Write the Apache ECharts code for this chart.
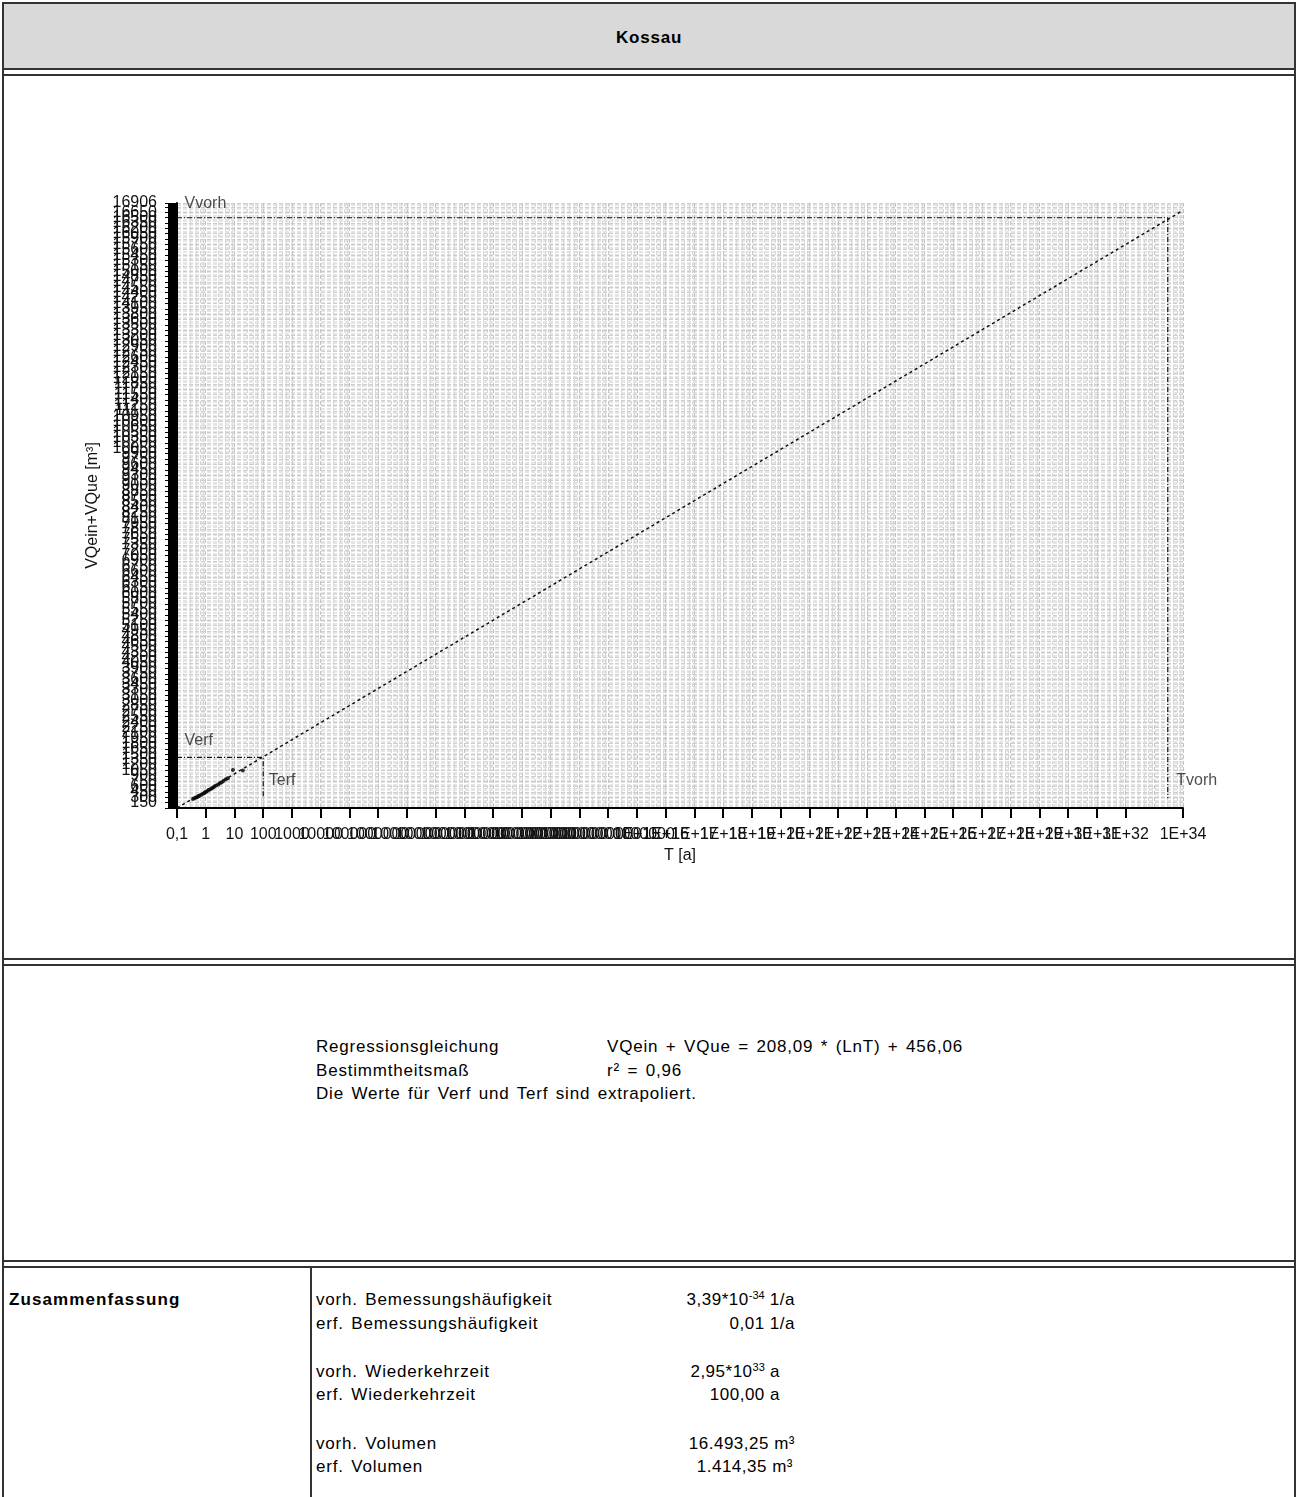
<!DOCTYPE html>
<html>
<head>
<meta charset="utf-8">
<script src="https://cdn.jsdelivr.net/npm/echarts@6/dist/echarts.min.js"></script>
<style>
html,body{margin:0;padding:0;background:#fff;}
body{width:1298px;height:1497px;position:relative;overflow:hidden;font-family:"Liberation Sans",Arial,sans-serif;color:#000;}
.b{position:absolute;background:#333;}
.t{position:absolute;font-size:17px;line-height:20px;white-space:nowrap;letter-spacing:0.8px;word-spacing:2px;}
.r{position:absolute;font-size:17px;line-height:20px;white-space:nowrap;text-align:right;letter-spacing:0.5px;}
sup{font-size:11px;line-height:0;vertical-align:6px;letter-spacing:0;}
#chart{position:absolute;left:0;top:0;width:1298px;height:1497px;}
</style>
</head>
<body>
<!-- frame -->
<div style="position:absolute;left:4px;top:4px;width:1290px;height:64px;background:#d9d9d9;"></div>
<div class="b" style="left:2px;top:2px;width:1294px;height:2px;"></div>
<div class="b" style="left:2px;top:2px;width:2px;height:1495px;"></div>
<div class="b" style="left:1294px;top:2px;width:2px;height:1495px;"></div>
<div class="b" style="left:2px;top:68px;width:1294px;height:2px;"></div>
<div class="b" style="left:2px;top:74px;width:1294px;height:2px;"></div>
<div class="b" style="left:2px;top:958px;width:1294px;height:2px;"></div>
<div class="b" style="left:2px;top:964px;width:1294px;height:2px;"></div>
<div class="b" style="left:2px;top:1260px;width:1294px;height:2px;"></div>
<div class="b" style="left:2px;top:1266px;width:1294px;height:2px;"></div>
<div class="b" style="left:310px;top:1266px;width:2px;height:231px;"></div>

<div class="t" style="left:4px;width:1290px;top:28px;text-align:center;font-weight:bold;">Kossau</div>

<div class="t" style="left:316px;top:1037px;">Regressionsgleichung</div>
<div class="t" style="left:607px;top:1037px;">VQein + VQue = 208,09 * (LnT) + 456,06</div>
<div class="t" style="left:316px;top:1061px;">Bestimmtheitsmaß</div>
<div class="t" style="left:607px;top:1061px;">r² = 0,96</div>
<div class="t" style="left:316px;top:1084px;">Die Werte für Verf und Terf sind extrapoliert.</div>

<div class="t" style="left:9px;top:1290px;font-weight:bold;letter-spacing:1.1px;">Zusammenfassung</div>
<div class="t" style="left:316px;top:1290px;">vorh. Bemessungshäufigkeit</div>
<div class="t" style="left:316px;top:1314px;">erf. Bemessungshäufigkeit</div>
<div class="t" style="left:316px;top:1362px;">vorh. Wiederkehrzeit</div>
<div class="t" style="left:316px;top:1385px;">erf. Wiederkehrzeit</div>
<div class="t" style="left:316px;top:1434px;">vorh. Volumen</div>
<div class="t" style="left:316px;top:1457px;">erf. Volumen</div>
<div class="r" style="right:503px;top:1290px;">3,39*10<sup>-34</sup> 1/a</div>
<div class="r" style="right:503px;top:1314px;">0,01 1/a</div>
<div class="r" style="right:518px;top:1362px;">2,95*10<sup>33</sup> a</div>
<div class="r" style="right:518px;top:1385px;">100,00 a</div>
<div class="r" style="right:503px;top:1434px;">16.493,25 m³</div>
<div class="r" style="right:505px;top:1457px;">1.414,35 m³</div>

<div id="chart"></div>
<script>
// ---- data ----
const obsT = [0.36, 0.40, 0.45, 0.50, 0.55, 0.60, 0.70, 0.80, 0.90, 1.00, 1.10, 1.25, 1.40, 1.60, 1.80, 2.00, 2.30, 2.70, 3.10, 3.60, 4.20, 5.00, 5.90, 8.80, 19.5];
const obsV = [250, 270, 290, 300, 330, 345, 370, 400, 420, 445, 470, 500, 520, 545, 575, 600, 630, 660, 690, 720, 760, 800, 830, 1060, 1050];
const regT = [0.1, 1e34];
const regV = [0, 16700];
const vorhT = [0.1, 2.95e33, 2.95e33];
const vorhV = [16493.25, 16493.25, 270];
const erfT = [0.1, 100, 100];
const erfV = [1414.35, 1414.35, 270];
const annotNames = ['Vvorh', 'Verf', 'Terf', 'Tvorh'];
const annotT = [0.1, 0.1, 100, 2.95e33];
const annotV = [16493.25, 1414.35, 1414.35, 1414.35];
const xTickLabels = ['0,1','1','10','100','1000','10000','100000','1000000','10000000','100000000',
  '1000000000','10000000000','100000000000','1000000000000','10000000000000','100000000000000',
  '1E+15','1E+16','1E+17','1E+18','1E+19','1E+20','1E+21','1E+22','1E+23','1E+24','1E+25',
  '1E+26','1E+27','1E+28','1E+29','1E+30','1E+31','1E+32','1E+33','1E+34'];
const xName = 'T [a]';
const yName = 'VQein+VQue [m³]';
const yMin = 0, yMax = 16906, yStep = 150;

const zip = (a, b) => a.map((v, i) => [v, b[i]]);
const annotOffsets = [[8, -22], [8, -24], [6, 16], [9, 16]];

const chart = echarts.init(document.getElementById('chart'), null, {renderer: 'canvas'});
const font = 'Liberation Sans';
chart.setOption({
  backgroundColor: 'transparent',
  animation: false,
  grid: {left: 177, right: 115, top: 203, bottom: 689, containLabel: false},
  xAxis: {
    type: 'log', logBase: 10, min: 0.1, max: 1e34, interval: 1,
    name: xName, nameLocation: 'middle', nameGap: 40,
    nameTextStyle: {fontFamily: font, fontSize: 16, color: '#111'},
    axisLine: {lineStyle: {color: '#000', width: 2}},
    axisTick: {show: true, length: 10, lineStyle: {color: '#000', width: 2}},
    axisLabel: {fontFamily: font, fontSize: 16, color: '#111', margin: 19, interval: 0, hideOverlap: false,
      showMinLabel: true, showMaxLabel: true,
      formatter: v => xTickLabels[Math.round(Math.log10(v)) + 1] || ''},
    splitLine: {show: true, lineStyle: {color: '#c4c4c4', type: [4, 2], width: 1}},
    minorTick: {show: false, splitNumber: 5},
    minorSplitLine: {show: true, lineStyle: {color: '#d6d6d6', type: [4, 2], width: 1}}
  },
  yAxis: {
    type: 'value', min: yMin, max: yMax, interval: yStep,
    name: yName, nameLocation: 'middle', nameGap: 76, nameRotate: 90,
    nameTextStyle: {fontFamily: font, fontSize: 16, color: '#111'},
    axisLine: {show: true, lineStyle: {color: '#000', width: 2}},
    axisTick: {show: true, length: 12, lineStyle: {color: '#000', width: 1}},
    minorTick: {show: true, splitNumber: 4, length: 9, lineStyle: {color: '#000', width: 2}},
    axisLabel: {fontFamily: font, fontSize: 16, color: '#111', margin: 20, hideOverlap: false,
      showMinLabel: true, showMaxLabel: true,
      formatter: v => (v === 0 ? '' : String(v))},
    splitLine: {show: true, lineStyle: {color: '#cdcdcd', type: [4, 2], width: 1}},
    minorSplitLine: {show: true, lineStyle: {color: '#e4e4e4', type: [4, 2], width: 1}}
  },
  series: [
    {type: 'line', data: zip(regT, regV), symbol: 'none', silent: true,
      lineStyle: {color: '#111', width: 1.5, type: [3, 3]}},
    {type: 'line', data: zip(vorhT, vorhV), symbol: 'none', silent: true,
      lineStyle: {color: '#111', width: 1.2, type: [5, 2, 1, 2]}},
    {type: 'line', data: zip(erfT, erfV), symbol: 'none', silent: true,
      lineStyle: {color: '#111', width: 1.2, type: [5, 2, 1, 2]}},
    {type: 'scatter', data: zip(obsT, obsV), symbol: 'circle', symbolSize: 4,
      itemStyle: {color: '#000'}},
    {type: 'scatter', symbol: 'circle', symbolSize: 1, itemStyle: {color: 'transparent'}, silent: true,
      data: annotNames.map((n, i) => ({name: n, value: [annotT[i], annotV[i]],
        label: {show: true, position: annotOffsets[i], formatter: '{b}',
          fontFamily: font, fontSize: 16, color: '#222'}}))}
  ]
});
</script>
</body>
</html>
